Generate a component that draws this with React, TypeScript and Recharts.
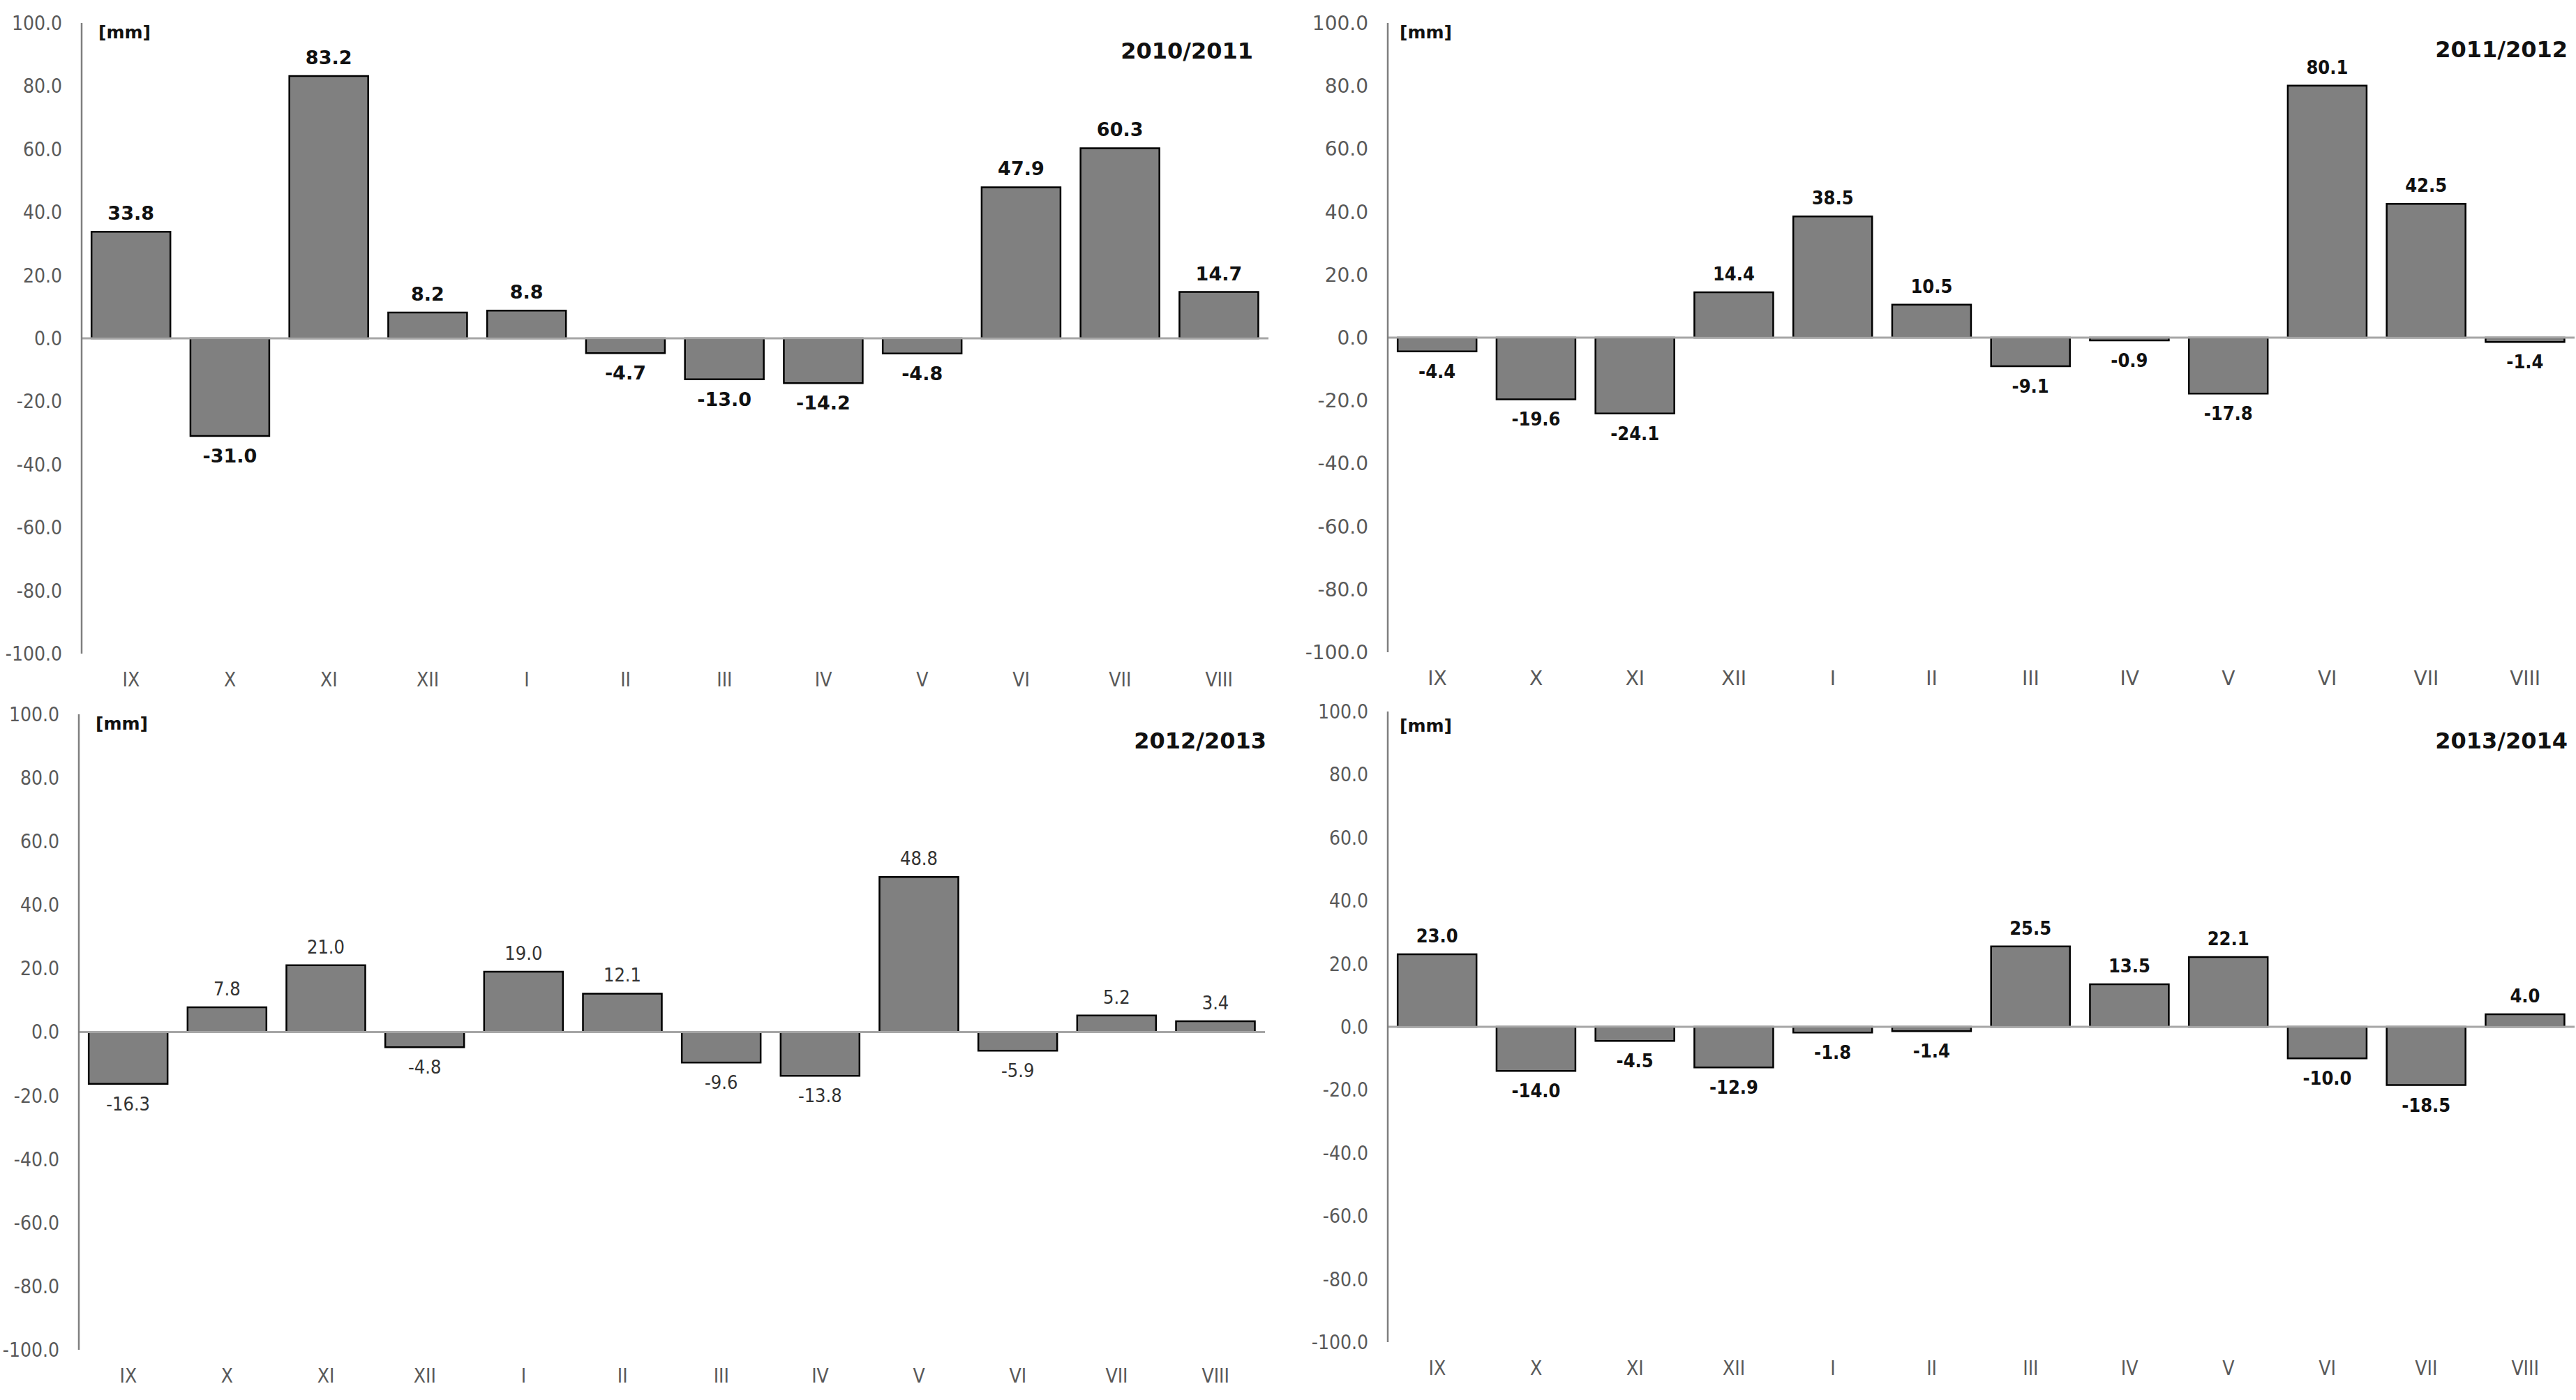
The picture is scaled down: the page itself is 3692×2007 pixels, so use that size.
import React from "react";
import { BarChart, Bar, XAxis, YAxis, ReferenceLine, LabelList } from "recharts";

const months = ["IX", "X", "XI", "XII", "I", "II", "III", "IV", "V", "VI", "VII", "VIII"];
const yTicks = [-100, -80, -60, -40, -20, 0, 20, 40, 60, 80, 100];

const values2010 = [33.8, -31.0, 83.2, 8.2, 8.8, -4.7, -13.0, -14.2, -4.8, 47.9, 60.3, 14.7];
const values2011 = [-4.4, -19.6, -24.1, 14.4, 38.5, 10.5, -9.1, -0.9, -17.8, 80.1, 42.5, -1.4];
const values2012 = [-16.3, 7.8, 21.0, -4.8, 19.0, 12.1, -9.6, -13.8, 48.8, -5.9, 5.2, 3.4];
const values2013 = [23.0, -14.0, -4.5, -12.9, -1.8, -1.4, 25.5, 13.5, 22.1, -10.0, -18.5, 4.0];

const seasons = ["2010/2011", "2011/2012", "2012/2013", "2013/2014"];
const seriesList = [values2010, values2011, values2012, values2013];

const COND = "'DejaVu Sans Condensed', 'DejaVu Sans', sans-serif";
const WIDE = "'DejaVu Sans', sans-serif";

// layout per panel (pixels in the 3692x2007 page)
const panels = [
  { left: 0, top: 0, width: 1846, height: 1003, yw: 117, mt: 33, mr: 28, xh: 66,
    tickFont: COND, labelFont: WIDE, labelWeight: 700, labelColor: "#111",
    title: { right: 3692 - 1796, top: 57 }, unit: { left: 141, top: 33 } },
  { left: 1846, top: 0, width: 1846, height: 1003, yw: 143, mt: 33, mr: 2, xh: 68,
    tickFont: WIDE, labelFont: COND, labelWeight: 700, labelColor: "#111",
    title: { right: 3692 - 3680, top: 55 }, unit: { left: 2006, top: 33 } },
  { left: 0, top: 1003, width: 1846, height: 1004, yw: 113, mt: 21, mr: 33, xh: 72,
    tickFont: COND, labelFont: COND, labelWeight: 400, labelColor: "#333",
    title: { right: 3692 - 1815, top: 1046 }, unit: { left: 137, top: 1024 } },
  { left: 1846, top: 1003, width: 1846, height: 1004, yw: 143, mt: 17, mr: 2, xh: 83,
    tickFont: COND, labelFont: COND, labelWeight: 700, labelColor: "#111",
    title: { right: 3692 - 3680, top: 1046 }, unit: { left: 2006, top: 1027 } },
];

function makeLabel(font: string, weight: number, color: string) {
  return (props: any) => {
    const x = Number(props.x);
    const y = Number(props.y);
    const w = Number(props.width);
    const h = Number(props.height);
    const v = Number(props.value);
    const top = Math.min(y, y + h);
    const bottom = Math.max(y, y + h);
    const ty = v >= 0 ? top - 17 : bottom + 38;
    return (
      <text x={x + w / 2} y={ty} textAnchor="middle" fontFamily={font} fontWeight={weight}
        fontSize={27} fill={color}>
        {v.toFixed(1)}
      </text>
    );
  };
}

function Panel({ idx }: { idx: number }) {
  const p = panels[idx];
  const data = months.map((m, i) => ({ month: m, value: seriesList[idx][i] }));
  return (
    <div style={{ position: "absolute", left: p.left, top: p.top, width: p.width, height: p.height }}>
      <BarChart width={p.width} height={p.height} data={data}
        margin={{ top: p.mt, right: p.mr, bottom: 0, left: 0 }} barCategoryGap="10%">
        <XAxis dataKey="month" axisLine={false} tickLine={false} tickSize={0} tickMargin={27}
          height={p.xh} interval={0}
          tick={{ fontFamily: p.tickFont, fontSize: 28, fill: "#595959" }} />
        <YAxis domain={[-100, 100]} ticks={yTicks} interval={0} width={p.yw}
          tickFormatter={(v: number) => v.toFixed(1)} tickLine={false} tickSize={0} tickMargin={28}
          axisLine={{ stroke: "#7f7f7f", strokeWidth: 2.5 }}
          tick={{ fontFamily: p.tickFont, fontSize: 28, fill: "#595959" }} />
        <ReferenceLine y={0} stroke="#a6a6a6" strokeWidth={3} />
        <Bar dataKey="value" fill="#808080" stroke="#000" strokeWidth={2.5} isAnimationActive={false}>
          <LabelList dataKey="value" content={makeLabel(p.labelFont, p.labelWeight, p.labelColor)} />
        </Bar>
      </BarChart>
    </div>
  );
}

export default function App() {
  return (
    <div style={{ position: "absolute", left: 0, top: 0, width: 3692, height: 2007, background: "#fff" }}>
      {panels.map((p, i) => (
        <React.Fragment key={i}>
          <Panel idx={i} />
          <div style={{ position: "absolute", right: p.title.right, top: p.title.top, fontFamily: WIDE,
            fontWeight: 700, fontSize: 32, lineHeight: "32px", color: "#111" }}>
            {seasons[i]}
          </div>
          <div style={{ position: "absolute", left: p.unit.left, top: p.unit.top, fontFamily: WIDE,
            fontWeight: 700, fontSize: 25, lineHeight: "28px", color: "#111" }}>
            [mm]
          </div>
        </React.Fragment>
      ))}
    </div>
  );
}
